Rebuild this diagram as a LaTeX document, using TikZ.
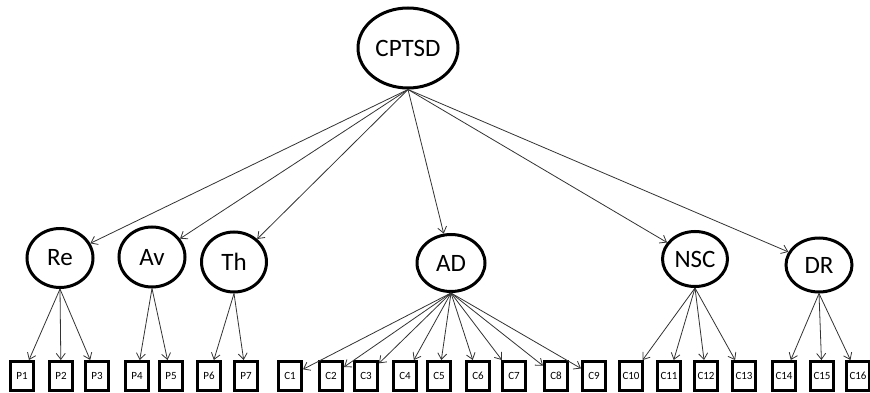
\documentclass[tikz,border=0pt]{standalone}
\usepackage{fontspec}
\setmainfont{Carlito}
\usetikzlibrary{shapes.geometric,arrows.meta}
\tikzset{
  latent/.style={ellipse,draw=black,line width=3pt,inner sep=0pt,font=\fontsize{25}{27}\selectfont},
  obs/.style={rectangle,draw=black,line width=3pt,inner sep=0pt,minimum width=23pt,minimum height=29pt,font=\fontsize{11}{12}\selectfont},
  arr/.style={draw=black!80,line width=0.8pt,-{Straight Barb[length=6pt,width=9pt]}}
}
\begin{document}
\begin{tikzpicture}[x=1pt,y=-1pt]
\useasboundingbox (0,0) rectangle (870,393);
\node[latent,minimum width=100pt,minimum height=80pt] (cptsd) at (408,48) {CPTSD};
\node[latent,minimum width=66pt,minimum height=59pt] (re) at (60,258) {Re};
\node[latent,minimum width=66pt,minimum height=60pt] (av) at (152,257) {Av};
\node[latent,minimum width=65pt,minimum height=60pt] (th) at (234,262) {Th};
\node[latent,minimum width=68pt,minimum height=57pt] (ad) at (451,263) {AD};
\node[latent,minimum width=65pt,minimum height=55pt] (nsc) at (695,259) {NSC};
\node[latent,minimum width=66pt,minimum height=54pt] (dr) at (819,265) {DR};
\foreach \n/\x in {P1/22,P2/61,P3/97,P4/137,P5/171,P6/209,P7/246,C1/290,C2/331,C3/366,C4/405,C5/439,C6/478,C7/514,C8/556,C9/594,C10/631,C11/669,C12/706,C13/744,C14/784,C15/822,C16/858}
  \node[obs] (\n) at (\x,376) {\n};
\foreach \t in {re,av,th,ad,nsc,dr}
  \draw[arr] (cptsd.south) -- (\t);
\foreach \t in {P1,P2,P3} \draw[arr] (re.south) -- (\t);
\foreach \t in {P4,P5} \draw[arr] (av.south) -- (\t);
\foreach \t in {P6,P7} \draw[arr] (th.south) -- (\t);
\foreach \t in {C1,C2,C3,C4,C5,C6,C7,C8,C9} \draw[arr] (ad.south) -- (\t);
\foreach \t in {C10,C11,C12,C13} \draw[arr] (nsc.south) -- (\t);
\foreach \t in {C14,C15,C16} \draw[arr] (dr.south) -- (\t);
\end{tikzpicture}
\end{document}
